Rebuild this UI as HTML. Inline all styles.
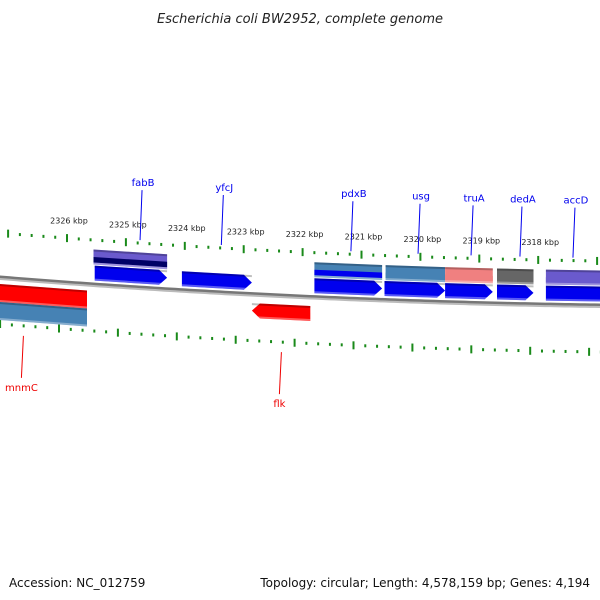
<!DOCTYPE html>
<html><head><meta charset="utf-8"><style>
html,body{margin:0;padding:0;background:#fff;}
svg{display:block;font-family:"DejaVu Sans","Liberation Sans",sans-serif;}
</style></head><body>
<svg id="chart" width="600" height="600" viewBox="0 0 600 600" xmlns="http://www.w3.org/2000/svg">
<rect width="600" height="600" fill="#fff"/>
<text x="300" y="23" text-anchor="middle" font-size="13" font-style="italic" fill="#222">Escherichia coli BW2952, complete genome</text>
<text x="9" y="587" font-size="12" fill="#111">Accession: NC_012759</text>
<text x="590" y="587" text-anchor="end" font-size="12" fill="#111">Topology: circular; Length: 4,578,159 bp; Genes: 4,194</text>
<g id="ticks"></g>
<g id="backbone"></g>
<g id="features"></g>
<g id="labels"></g>
</svg>
<script>
const tickKbp = [2327,2326,2325,2324,2323,2322,2321,2320,2319,2318,2317];
const labelKbp = [2326,2325,2324,2323,2322,2321,2320,2319,2318];
// features: name, start kbp, end kbp, track, color, direction
const featNames = ['fabB','yfcJ','pdxB','usg','truA','dedA','accD','fabB-bar','pdxB-bar','usg-bar','truA-bar','dedA-bar','accD-bar','mnmC','mnmC-bar','flk'];
const featStart = [2325.53,2324.05,2321.80,2320.61,2319.58,2318.70,2317.87,2325.55,2321.80,2320.59,2319.58,2318.70,2317.87,2327.14,2327.14,2322.86];
const featEnd = [2324.30,2322.86,2320.65,2319.58,2318.77,2318.08,2316.8,2324.30,2320.65,2319.58,2318.77,2318.08,2316.8,2325.66,2325.66,2321.87];
const featTrack = [-12,-12,-12,-12,-12,-12,-12,-28,-28,-28,-28,-28,-28,15,33,16];
const featColor = ['#0000ee','#0000ee','#0000ee','#0000ee','#0000ee','#0000ee','#0000ee','#6a5acd','#4682b4','#4682b4','#f08080','#666666','#6a5acd','#ff0000','#4682b4','#ff0000'];
const featColor2 = ['#0000ee','#0000ee','#0000ee','#0000ee','#0000ee','#0000ee','#0000ee','#000066','#0000ee','#4682b4','#f08080','#666666','#6a5acd','#ff0000','#4682b4','#ff0000'];
const featDir = [1,1,1,1,1,1,1,0,0,0,0,0,0,0,0,-1];
const geneLabels = ['fabB','yfcJ','pdxB','usg','truA','dedA','accD','mnmC','flk'];
const geneLabelKbp = [2324.76,2323.38,2321.18,2320.04,2319.14,2318.31,2317.41,2326.74,2322.36];
const geneLabelSide = [1,1,1,1,1,1,1,-1,-1];

const NS='http://www.w3.org/2000/svg';
function X(k){return 67+(2326-k)*58.9;}
function B(x){return 278+0.08*x-5.56e-5*x*x;}
function mk(t,a,p){const e=document.createElementNS(NS,t);for(const k in a)e.setAttribute(k,a[k]);p.appendChild(e);return e;}

// backbone
const bb=document.getElementById('backbone');
let pts=[],pts2=[];
for(let x=-5;x<=605;x+=5){pts.push(x+','+(B(x)-1).toFixed(2));pts2.push(x+','+(B(x)+1).toFixed(2));}
const bl1=mk('polyline',{points:pts.join(' '),fill:'none',stroke:'#777','stroke-width':3},bb);


const bl2=mk('polyline',{points:pts2.join(' '),fill:'none',stroke:'#bbb','stroke-width':2},bb);



// ticks
const tg=document.getElementById('ticks');
for(let i=0;i<tickKbp.length;i++){
  for(let m=0;m<5;m++){
    const k=tickKbp[i]-m*0.2;
    // upper
    let x=X(k), y=B(x)-45;
    const major=m===0;
    const t=mk('rect',{x:x-1,y:major?y-4:y-1.5,width:2,height:major?8:3,fill:'#1a8a1a'},tg);
    
    
    // lower (offset by one tick)
    let x2=X(k)-8, y2=B(x2)+46;
    const t2=mk('rect',{x:x2-1,y:major?y2-4:y2-1.5,width:2,height:major?8:3,fill:'#1a8a1a'},tg);
    
    
  }
}
for(let i=0;i<labelKbp.length;i++){
  const x=X(labelKbp[i])+2, y=B(x)-45-15;
  const t=mk('text',{x:x,y:y,'text-anchor':'middle','font-size':8,fill:'#222'},tg);
  t.textContent=labelKbp[i]+' kbp';
  
  
}

// features
const fg=document.getElementById('features');
for(let i=0;i<featNames.length;i++){
  const x1=X(featStart[i]), x2=X(featEnd[i]);
  const h=featTrack[i]>0&&featDir[i]===0?18:15;
  const o=featTrack[i];
  const ya=B(x1)+o, yb=B(x2)+o;
  const g=mk('g',{},fg);
  
  
  let p;
  if(featDir[i]===1){
    const xt=x2-8, yt=B(xt)+o;
    p=[[x1,ya-h/2],[xt,yt-h/2],[x2,yb],[xt,yt+h/2],[x1,ya+h/2]];
  }else if(featDir[i]===-1){
    const xt=x1+8, yt=B(xt)+o;
    p=[[x1,ya],[xt,yt-h/2],[x2,yb-h/2],[x2,yb+h/2],[xt,yt+h/2]];
  }else{
    p=[[x1,ya-h/2],[x2,yb-h/2],[x2,yb+h/2],[x1,ya+h/2]];
  }
  mk('polygon',{points:p.map(q=>q[0].toFixed(1)+','+q[1].toFixed(1)).join(' '),fill:featColor[i]},g);
  // lower half tint for two-tone bars
  mk('polygon',{points:[[x1,ya],[x2,yb],[x2,yb+h/2-2],[x1,ya+h/2-2]].map(q=>q[0].toFixed(1)+','+q[1].toFixed(1)).join(' '),fill:featColor2[i],opacity:featDir[i]===0?1:0},g);
  // shading
  mk('polygon',{points:[[x1,ya-h/2],[x2,yb-h/2],[x2,yb-h/2+2],[x1,ya-h/2+2]].map(q=>q[0].toFixed(1)+','+q[1].toFixed(1)).join(' '),fill:'#000',opacity:0.25},g);
  mk('polygon',{points:[[x1,ya+h/2-2],[x2,yb+h/2-2],[x2,yb+h/2],[x1,ya+h/2]].map(q=>q[0].toFixed(1)+','+q[1].toFixed(1)).join(' '),fill:'#fff',opacity:0.35},g);
}

// gene labels
const lg=document.getElementById('labels');
for(let i=0;i<geneLabels.length;i++){
  const x=X(geneLabelKbp[i]);
  const up=geneLabelSide[i]===1;
  const col=up?'#0000ee':'#ee0000';
  let l,t;
  if(up){
    const y0=B(x)-38-10;
    l=mk('line',{x1:x,y1:y0,x2:x+2,y2:y0-50,stroke:col,'stroke-width':1},lg);
    t=mk('text',{x:x+3,y:y0-54,'text-anchor':'middle','font-size':10,fill:col},lg);
  }else{
    const y0=B(x)+56;
    l=mk('line',{x1:x,y1:y0,x2:x-2,y2:y0+42,stroke:col,'stroke-width':1},lg);
    t=mk('text',{x:x-2,y:y0+55,'text-anchor':'middle','font-size':10,fill:col},lg);
  }
  
  
  t.textContent=geneLabels[i];
  
  
}
</script>
</body></html>
